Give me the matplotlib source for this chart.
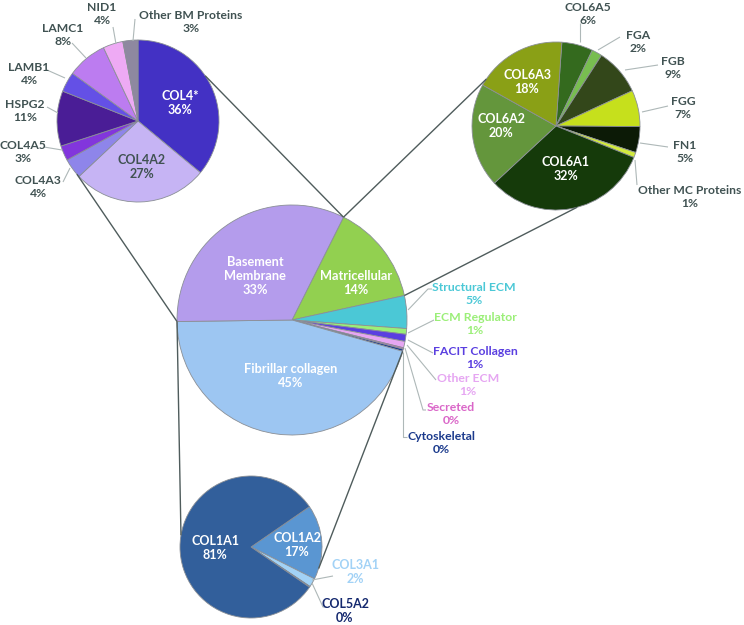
import numpy as np
import matplotlib
matplotlib.use("Agg")
import matplotlib.pyplot as plt

# ---- data ----
# main pie (clockwise from the Matricellular slice)
main_labels = ["Matricellular", "Structural ECM", "ECM Regulator", "FACIT Collagen",
               "Other ECM", "Secreted", "Cytoskeletal", "Fibrillar collagen",
               "Basement\nMembrane"]
main_values = [14.2, 4.6, 0.8, 1.0, 0.9, 0.2, 0.3, 45.4, 32.6]
main_colors = ["#92D050", "#4BC8D6", "#9BEF78", "#5A3FE0", "#E6A6F2",
               "#DA66C8", "#1B3A8C", "#9DC6F2", "#B49CEC"]

# basement membrane breakdown (clockwise from 12 o'clock)
bm_labels = ["COL4*", "COL4A2", "COL4A3", "COL4A5", "HSPG2", "LAMB1",
             "LAMC1", "NID1", "Other BM Proteins"]
bm_values = [36, 27, 4, 3, 11, 4, 8, 4, 3]
bm_colors = ["#4331C4", "#C6B4F4", "#8E85EA", "#8236DC", "#4A1D96",
             "#6450E6", "#BC7CF0", "#EEAAF4", "#8E88A0"]

# matricellular breakdown
mc_labels = ["COL6A5", "FGA", "FGB", "FGG", "FN1", "Other MC Proteins",
             "COL6A1", "COL6A2", "COL6A3"]
mc_values = [6, 2, 9, 7, 5, 1, 32, 20, 18]
mc_colors = ["#346A1E", "#78BE50", "#33471A", "#C6E01C", "#0C1A06",
             "#D2EA40", "#153A0A", "#64963C", "#8AA016"]

# fibrillar collagen breakdown
fc_labels = ["COL1A2", "COL3A1", "COL5A2", "COL1A1"]
fc_values = [17.0, 2.0, 0.2, 80.8]
fc_colors = ["#5A96D2", "#A2D2F6", "#14286E", "#325F9B"]

# ---- layout (pixel coords, y from top) ----
H = 625
def P(x, y):
    return (x, H - y)

fig = plt.figure(figsize=(7.44, 6.25), dpi=100)
ax = fig.add_axes([0, 0, 1, 1])

edge = dict(edgecolor="#8A8F96", linewidth=0.6)
gray_txt = "#405252"
lead = "#AEB8B8"
conn = "#4F5C5C"
font = "Lato"

def pie(vals, cols, c, r, start):
    w, _ = ax.pie(vals, colors=cols, startangle=start, counterclock=False,
                  center=P(*c), radius=r, wedgeprops=edge)
    return w

def txt(s, x, y, color, size=9.0):
    ax.text(*P(x, y), s, ha="center", va="center", color=color,
            fontsize=size, fontweight="bold", family=font, linespacing=1.2)

def line(pts, color=lead, lw=0.8):
    xs = [p[0] for p in pts]
    ys = [H - p[1] for p in pts]
    ax.plot(xs, ys, color=color, lw=lw, solid_capstyle="butt")

def edge_pt(c, r, ang):
    return (c[0] + r * np.cos(np.radians(ang)), c[1] - r * np.sin(np.radians(ang)))

main_c, main_r = (292, 320), 115
bm_c, bm_r = (138, 121), 81
mc_c, mc_r = (556, 126), 84
fc_c, fc_r = (251, 547), 71

main_w = pie(main_values, main_colors, main_c, main_r, 63.4)
bm_w = pie(bm_values, bm_colors, bm_c, bm_r, 90)
mc_w = pie(mc_values, mc_colors, mc_c, mc_r, 86)
fc_w = pie(fc_values, fc_colors, fc_c, fc_r, 34.6)

# wedge boundary angles of the main pie
mat_w = main_w[0]
fib_w = main_w[7]
p_top = edge_pt(main_c, main_r, mat_w.theta2)   # BM / Matricellular
p_mid = edge_pt(main_c, main_r, mat_w.theta1)   # Matricellular / Structural
p_left = edge_pt(main_c, main_r, fib_w.theta1)  # Fibrillar / BM
p_low = edge_pt(main_c, main_r, fib_w.theta2)   # small slices / Fibrillar

line([edge_pt(bm_c, bm_r, 34), p_top], conn, 1.0)
line([edge_pt(bm_c, bm_r, 221), p_left], conn, 1.0)
line([p_top, edge_pt(mc_c, mc_r, 146)], conn, 1.0)
line([p_mid, edge_pt(mc_c, mc_r, -75.6)], conn, 1.0)
line([p_left, edge_pt(fc_c, fc_r, 170.5)], conn, 1.0)
line([p_low, edge_pt(fc_c, fc_r, -17.7)], conn, 1.0)

# ---- labels: main pie ----
def pct(v):
    return f"{round(v):d}%"

txt(f"{main_labels[8]}\n{pct(main_values[8])}", 255, 276, "white", 9.2)
txt(f"{main_labels[0]}\n{pct(main_values[0])}", 356, 283, "white", 9.2)
txt(f"{main_labels[7]}\n{pct(main_values[7])}", 291, 376, "white", 9.2)

side = [(1, 474, 294, [(408, 310), (428, 289), (432, 289)]),
        (2, 475, 324, [(408, 333), (434, 320)]),
        (3, 475, 358, [(408, 340), (433, 353)]),
        (4, 468, 385, [(407, 345), (436, 380)]),
        (5, 451, 414, [(405, 348), (423, 410), (426, 410)]),
        (6, 441, 443, [(403, 352), (403, 437), (407, 437)])]
for i, x, y, pts in side:
    line(pts)
    txt(f"{main_labels[i]}\n{pct(main_values[i])}", x, y, main_colors[i], 8.8)

# ---- labels: basement membrane pie ----
txt(f"{bm_labels[0]}\n{bm_values[0]}%", 180, 103, "white")
txt(f"{bm_labels[1]}\n{bm_values[1]}%", 142, 167, gray_txt)
bm_side = [(2, 38, 187, [(63, 182), (70, 168)]),
           (3, 23, 152, [(44, 147), (62, 150)]),
           (4, 25, 111, [(47, 107), (58, 113)]),
           (5, 29, 74, [(47, 70), (65, 78)]),
           (6, 63, 35, [(72, 43), (86, 58)]),
           (7, 102, 14, [(113, 27), (116, 44)]),
           (8, 191, 22, [(135, 19), (133, 41)])]
for i, x, y, pts in bm_side:
    line(pts)
    txt(f"{bm_labels[i]}\n{bm_values[i]}%", x, y, gray_txt, 8.7)

# ---- labels: matricellular pie ----
txt(f"{mc_labels[6]}\n{mc_values[6]}%", 566, 169, "white")
txt(f"{mc_labels[7]}\n{mc_values[7]}%", 501, 126, "white")
txt(f"{mc_labels[8]}\n{mc_values[8]}%", 527, 82, "white")
mc_side = [(0, 588, 14, [(580, 23), (580, 42)]),
           (1, 638, 42, [(620, 37), (598, 50)]),
           (2, 673, 68, [(658, 65), (625, 70)]),
           (3, 683, 108, [(668, 106), (642, 112)]),
           (4, 685, 152, [(668, 147), (640, 143)]),
           (5, 690, 197, [(637, 185), (635, 160)])]
for i, x, y, pts in mc_side:
    line(pts)
    txt(f"{mc_labels[i]}\n{mc_values[i]}%", x, y, gray_txt, 8.7)

# ---- labels: fibrillar collagen pie ----
txt(f"{fc_labels[3]}\n{pct(fc_values[3])}", 215, 548, "white")
txt(f"{fc_labels[0]}\n{pct(fc_values[0])}", 297, 545, "white")
line([(333, 576), (312, 580)])
txt(f"{fc_labels[1]}\n{pct(fc_values[1])}", 355, 572, fc_colors[1])
line([(312, 583), (323, 607), (327, 607)])
txt(f"{fc_labels[2]}\n{pct(fc_values[2])}", 345, 611, fc_colors[2])

ax.set_xlim(0, 744)
ax.set_ylim(0, 625)
ax.set_aspect("equal")
ax.axis("off")
fig.savefig("out.png", dpi=100, facecolor="white")
